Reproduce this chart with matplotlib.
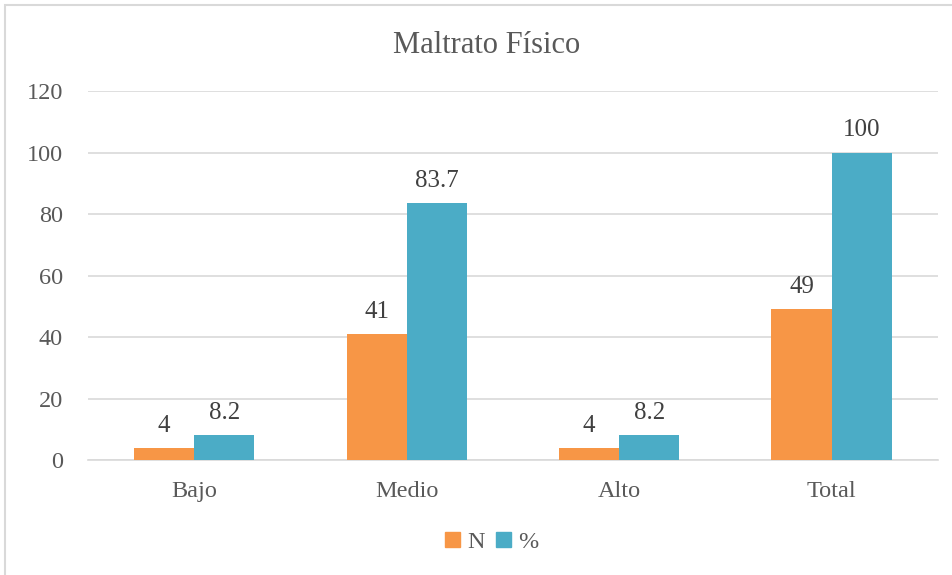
import matplotlib.pyplot as plt
import matplotlib.patches as mpatches
import numpy as np

# datos del gráfico
categorias = ['Bajo', 'Medio', 'Alto', 'Total']
valores_n = [4, 41, 4, 49]
valores_pct = [8.2, 83.7, 8.2, 100]
etiquetas_n = ['4', '41', '4', '49']
etiquetas_pct = ['8.2', '83.7', '8.2', '100']

naranja = '#F79646'
azul = '#4BACC6'
gris_txt = '#595959'

plt.rcParams['font.family'] = ['Liberation Serif', 'DejaVu Serif']

fig = plt.figure(figsize=(9.53, 5.75), dpi=100)
ax = fig.add_axes([0.0923, 0.2, 0.8917, 0.6417])

x = np.arange(len(categorias))
ancho = 0.283
b1 = ax.bar(x - ancho / 2, valores_n, ancho, color=naranja, label='N', zorder=3)
b2 = ax.bar(x + ancho / 2, valores_pct, ancho, color=azul, label='%', zorder=3)

for barras, etiq in ((b1, etiquetas_n), (b2, etiquetas_pct)):
    for b, t in zip(barras, etiq):
        ax.annotate(t, (b.get_x() + b.get_width() / 2, b.get_height()),
                    xytext=(0, 8), textcoords='offset points',
                    ha='center', va='bottom', fontsize=18, color='#404040')

ax.set_xlim(-0.5, 3.5)
ax.set_ylim(0, 120)
ax.set_yticks(range(0, 121, 20))
ax.set_xticks(x)
ax.set_xticklabels(categorias)
ax.tick_params(axis='both', length=0, labelsize=17.5, colors=gris_txt)
ax.tick_params(axis='x', pad=15)
ax.tick_params(axis='y', pad=18)
ax.yaxis.grid(True, color='#D9D9D9', linewidth=1.2, zorder=0)
for s in ('top', 'right', 'left'):
    ax.spines[s].set_visible(False)
ax.spines['bottom'].set_color('#D9D9D9')
ax.spines['bottom'].set_linewidth(1.2)

fig.text(0.511, 0.921, 'Maltrato Físico', ha='center', va='center',
         fontsize=22, color=gris_txt)

leg = fig.legend(handles=[mpatches.Patch(color=naranja, label='N'),
                          mpatches.Patch(color=azul, label='%')],
                 loc='center', bbox_to_anchor=(0.516, 0.057), ncol=2, frameon=False,
                 fontsize=17.5, handlelength=0.6, handleheight=0.6,
                 handletextpad=0.3, columnspacing=0.5)
for t in leg.get_texts():
    t.set_color(gris_txt)

# marco del gráfico
fig.patches.append(mpatches.Rectangle((5 / 953, -0.02), 1.1, 1 - 5 / 575 + 0.02,
                                      transform=fig.transFigure, fill=False,
                                      edgecolor='#D9D9D9', linewidth=1.5))

fig.savefig('out.png', dpi=100)
